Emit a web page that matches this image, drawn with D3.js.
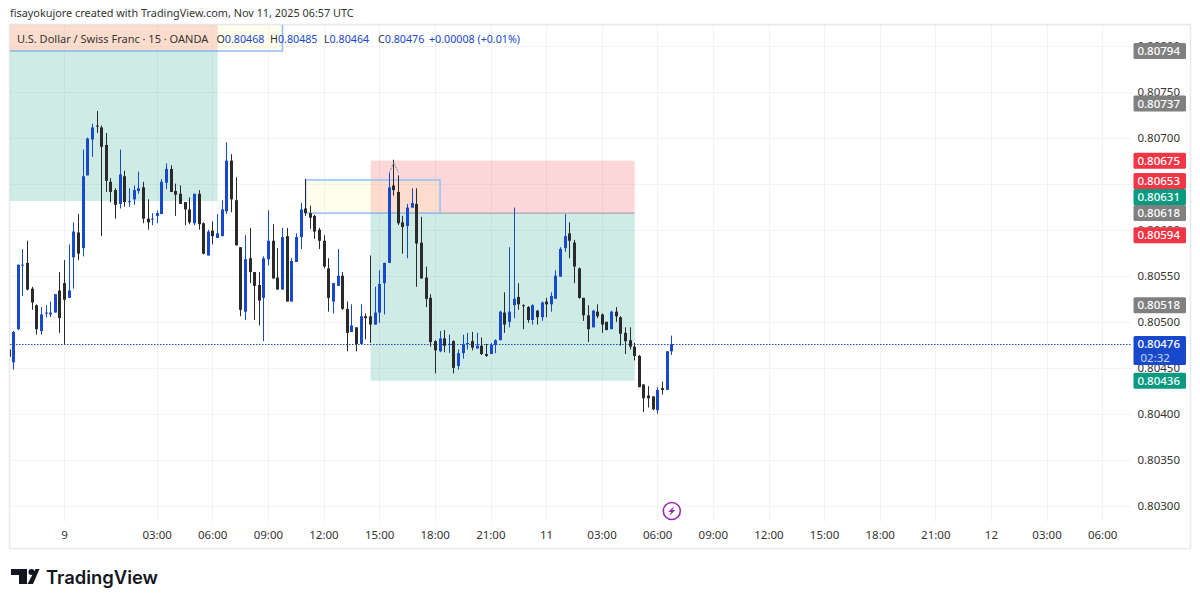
<!DOCTYPE html>
<html>
<head>
<meta charset="utf-8">
<script src="https://cdn.jsdelivr.net/npm/d3@7"></script>
<style>
  html, body { margin: 0; padding: 0; background: #fff; }
  svg { display: block; }
  text { font-family: "Noto Sans", "Open Sans", sans-serif; }
</style>
</head>
<body>
<div id="chart"></div>
<script>
// candles, in bar order
const opens = [
  0.80470,0.80456,0.80492,0.80561,0.80564,0.80536,0.80518,0.80490,0.80509,0.80508,
  0.80510,0.80534,0.80542,0.80526,0.80570,0.80597,0.80580,0.80659,0.80698,0.80713,
  0.80711,0.80692,0.80652,0.80643,0.80628,0.80658,0.80630,0.80633,0.80642,0.80646,
  0.80612,0.80611,0.80615,0.80617,0.80651,0.80666,0.80642,0.80639,0.80630,0.80622,
  0.80607,0.80639,0.80607,0.80572,0.80599,0.80591,0.80593,0.80620,0.80675,0.80632,
  0.80581,0.80511,0.80569,0.80554,0.80540,0.80526,0.80568,0.80588,0.80548,0.80535,
  0.80593,0.80522,0.80565,0.80592,0.80623,0.80618,0.80615,0.80600,0.80588,0.80558,
  0.80522,0.80539,0.80550,0.80514,0.80489,0.80494,0.80476,0.80506,0.80506,0.80497,
  0.80510,0.80542,0.80564,0.80648,0.80641,0.80608,0.80604,0.80624,0.80628,0.80586,
  0.80548,0.80526,0.80479,0.80468,0.80482,0.80475,0.80479,0.80452,0.80466,0.80476,
  0.80479,0.80471,0.80474,0.80465,0.80465,0.80475,0.80480,0.80510,0.80500,0.80518,
  0.80527,0.80518,0.80516,0.80502,0.80512,0.80505,0.80522,0.80519,0.80525,0.80549,
  0.80580,0.80596,0.80586,0.80558,0.80526,0.80507,0.80494,0.80511,0.80508,0.80500,
  0.80492,0.80511,0.80505,0.80488,0.80480,0.80473,0.80463,0.80432,0.80420,0.80419,
  0.80404,0.80428,0.80426,0.80468];
const highs = [
  0.80476,0.80490,0.80562,0.80579,0.80588,0.80538,0.80519,0.80516,0.80518,0.80522,
  0.80530,0.80554,0.80567,0.80584,0.80608,0.80617,0.80687,0.80700,0.80715,0.80729,
  0.80713,0.80705,0.80656,0.80645,0.80687,0.80664,0.80645,0.80648,0.80663,0.80652,
  0.80633,0.80618,0.80621,0.80655,0.80672,0.80670,0.80650,0.80648,0.80630,0.80635,
  0.80639,0.80643,0.80608,0.80600,0.80609,0.80617,0.80632,0.80695,0.80682,0.80657,
  0.80581,0.80594,0.80602,0.80554,0.80554,0.80571,0.80621,0.80606,0.80580,0.80602,
  0.80602,0.80569,0.80596,0.80629,0.80655,0.80626,0.80616,0.80602,0.80594,0.80569,
  0.80542,0.80579,0.80554,0.80522,0.80519,0.80494,0.80519,0.80509,0.80572,0.80538,
  0.80556,0.80564,0.80662,0.80676,0.80659,0.80615,0.80628,0.80645,0.80645,0.80614,
  0.80560,0.80530,0.80480,0.80490,0.80491,0.80486,0.80480,0.80470,0.80486,0.80488,
  0.80489,0.80488,0.80483,0.80476,0.80477,0.80481,0.80512,0.80532,0.80581,0.80624,
  0.80542,0.80519,0.80517,0.80519,0.80513,0.80522,0.80526,0.80532,0.80556,0.80581,
  0.80617,0.80608,0.80589,0.80559,0.80526,0.80518,0.80513,0.80519,0.80509,0.80500,
  0.80512,0.80516,0.80506,0.80494,0.80494,0.80477,0.80464,0.80432,0.80430,0.80419,
  0.80429,0.80435,0.80468,0.80485];
const lows = [
  0.80456,0.80448,0.80491,0.80528,0.80534,0.80513,0.80486,0.80486,0.80505,0.80505,
  0.80510,0.80488,0.80476,0.80526,0.80536,0.80567,0.80571,0.80659,0.80679,0.80705,
  0.80593,0.80641,0.80630,0.80612,0.80623,0.80625,0.80625,0.80627,0.80639,0.80607,
  0.80600,0.80605,0.80607,0.80617,0.80644,0.80641,0.80615,0.80628,0.80605,0.80606,
  0.80605,0.80600,0.80573,0.80572,0.80584,0.80591,0.80593,0.80617,0.80619,0.80583,
  0.80506,0.80502,0.80542,0.80502,0.80496,0.80479,0.80561,0.80547,0.80535,0.80535,
  0.80522,0.80522,0.80565,0.80579,0.80615,0.80601,0.80590,0.80579,0.80558,0.80511,
  0.80509,0.80539,0.80513,0.80468,0.80489,0.80468,0.80476,0.80481,0.80477,0.80497,
  0.80499,0.80508,0.80564,0.80637,0.80605,0.80574,0.80569,0.80624,0.80538,0.80547,
  0.80516,0.80473,0.80444,0.80467,0.80467,0.80466,0.80444,0.80448,0.80460,0.80470,
  0.80469,0.80471,0.80464,0.80462,0.80465,0.80466,0.80480,0.80488,0.80494,0.80504,
  0.80513,0.80492,0.80499,0.80497,0.80497,0.80501,0.80505,0.80511,0.80525,0.80549,
  0.80576,0.80569,0.80542,0.80525,0.80501,0.80478,0.80494,0.80504,0.80488,0.80491,
  0.80492,0.80500,0.80474,0.80465,0.80470,0.80458,0.80429,0.80402,0.80407,0.80404,
  0.80400,0.80421,0.80426,0.80464];
const closes = [
  0.80462,0.80489,0.80562,0.80562,0.80535,0.80521,0.80492,0.80508,0.80510,0.80510,
  0.80530,0.80504,0.80524,0.80534,0.80598,0.80574,0.80658,0.80699,0.80711,0.80712,
  0.80690,0.80653,0.80641,0.80627,0.80660,0.80630,0.80631,0.80643,0.80645,0.80612,
  0.80608,0.80612,0.80618,0.80652,0.80666,0.80641,0.80638,0.80628,0.80622,0.80608,
  0.80639,0.80606,0.80574,0.80598,0.80593,0.80596,0.80622,0.80675,0.80633,0.80583,
  0.80513,0.80568,0.80554,0.80539,0.80523,0.80569,0.80588,0.80547,0.80535,0.80592,
  0.80522,0.80566,0.80592,0.80622,0.80618,0.80613,0.80598,0.80588,0.80560,0.80526,
  0.80542,0.80550,0.80514,0.80488,0.80496,0.80476,0.80506,0.80504,0.80497,0.80510,
  0.80541,0.80564,0.80646,0.80643,0.80607,0.80603,0.80624,0.80629,0.80585,0.80547,
  0.80525,0.80478,0.80469,0.80482,0.80474,0.80476,0.80450,0.80466,0.80476,0.80477,
  0.80472,0.80474,0.80465,0.80463,0.80475,0.80480,0.80511,0.80497,0.80511,0.80525,
  0.80519,0.80517,0.80502,0.80518,0.80505,0.80521,0.80519,0.80528,0.80550,0.80579,
  0.80593,0.80588,0.80560,0.80526,0.80507,0.80492,0.80512,0.80506,0.80497,0.80491,
  0.80511,0.80506,0.80487,0.80479,0.80473,0.80463,0.80429,0.80417,0.80417,0.80405,
  0.80426,0.80426,0.80468,0.80476];

// axes
const priceTicks = [0.80300,0.80350,0.80400,0.80450,0.80500,0.80550,0.80600,0.80650,0.80700,0.80750,0.80800];
const timeBars = [12,32,44,56,68,80,92,104,116,128,140,152,164,176,188,200,212,224,236];
const timeLabels = ["9","03:00","06:00","09:00","12:00","15:00","18:00","21:00","11","03:00","06:00","09:00","12:00","15:00","18:00","21:00","12","03:00","06:00"];

// price tags on the right, highest first
const tagPrices = [0.80794,0.80737,0.80675,0.80653,0.80631,0.80618,0.80594,0.80518,0.80436];
const tagColors = ["#808080","#808080","#f23645","#f23645","#089981","#808080","#f23645","#808080","#089981"];
const lastPrice = 0.80476;
const countdown = "02:32";

// drawings: [first bar, last bar, top price, bottom price]
const greenZones = [[-8,45,0.80794,0.80631],[78,135,0.80618,0.80436]];
const redZones = [[-8,45,0.80900,0.80794],[78,135,0.80675,0.80618]];
const yellowBoxes = [[-8,59,0.80900,0.80794],[64,93,0.80654,0.80618]];

const legendTitle = "U.S. Dollar / Swiss Franc · 15 · OANDA";
const legendLetters = ["O","H","L","C"];
const legendValues = ["0.80468","0.80485","0.80464","0.80476"];
const legendChange = "+0.00008 (+0.01%)";

const width = 1200, height = 605;
const plotLeft = 10, plotRight = 1132, plotTop = 25, plotBottom = 522;
const blue = "#1848cc", dark = "#2a2a2a";
const tagHeight = 16;

const x = d3.scaleLinear().domain([0, 143]).range([9, 671.8]);
const y = d3.scaleLinear().domain([0.803, 0.807]).range([506, 137.6]);
const fmt = d3.format(".5f");
const barX = i => Math.floor(x(i)) + 0.5;

const svg = d3.select("#chart").append("svg")
  .attr("width", width).attr("height", height);

svg.append("clipPath").attr("id", "plot").append("rect")
  .attr("x", plotLeft).attr("y", plotTop)
  .attr("width", plotRight - plotLeft).attr("height", plotBottom - plotTop);

svg.append("text").attr("x", 10).attr("y", 17)
  .attr("font-size", 10.87).attr("fill", "#333")
  .text("fisayokujore created with TradingView.com, Nov 11, 2025 06:57 UTC");

svg.append("rect").attr("x", 9.5).attr("y", 24.5)
  .attr("width", 1181).attr("height", 524)
  .attr("fill", "none").attr("stroke", "#e6e8ee").attr("stroke-width", 1.5);

// grid
const grid = svg.append("g").attr("stroke", "#f2f3f6");
grid.selectAll("line.h").data(priceTicks).join("line")
  .attr("x1", plotLeft).attr("x2", plotRight)
  .attr("y1", d => Math.round(y(d)) + 0.5).attr("y2", d => Math.round(y(d)) + 0.5);
grid.selectAll("line.v").data(timeBars).join("line")
  .attr("y1", plotTop).attr("y2", plotBottom)
  .attr("x1", d => barX(d)).attr("x2", d => barX(d));

// position tools and boxes, under the candles
const plot = svg.append("g").attr("clip-path", "url(#plot)");
const zone = (data, fill) => plot.append("g").selectAll("rect").data(data).join("rect")
  .attr("x", d => x(d[0])).attr("width", d => x(d[1]) - x(d[0]))
  .attr("y", d => y(d[2])).attr("height", d => y(d[3]) - y(d[2]))
  .attr("fill", fill).attr("fill-opacity", 0.2);
zone(greenZones, "#089981");
zone(redZones, "#f23645");

plot.append("g").selectAll("line").data(greenZones).join("line")
  .attr("x1", d => x(d[0])).attr("x2", d => x(d[1]))
  .attr("y1", d => y(d[2])).attr("y2", d => y(d[2]))
  .attr("stroke", "#9a9a9a").attr("stroke-width", 1);

plot.append("g").selectAll("rect").data(yellowBoxes).join("rect")
  .attr("x", d => x(d[0])).attr("width", d => x(d[1]) - x(d[0]))
  .attr("y", d => y(d[2])).attr("height", d => y(d[3]) - y(d[2]))
  .attr("fill", "#fff59d").attr("fill-opacity", 0.2)
  .attr("stroke", "#90bff9").attr("stroke-width", 1.5);

// last price line
plot.append("line")
  .attr("x1", plotLeft).attr("x2", plotRight)
  .attr("y1", Math.round(y(lastPrice)) + 0.5).attr("y2", Math.round(y(lastPrice)) + 0.5)
  .attr("stroke", blue).attr("stroke-width", 1.2).attr("stroke-dasharray", "1.5 1.5");

// candles
const candles = plot.append("g").selectAll("g").data(opens).join("g")
  .attr("fill", (d, i) => closes[i] >= d ? blue : dark)
  .attr("stroke", (d, i) => closes[i] >= d ? blue : dark);
candles.append("line")
  .attr("x1", (d, i) => barX(i)).attr("x2", (d, i) => barX(i))
  .attr("y1", (d, i) => y(highs[i])).attr("y2", (d, i) => y(lows[i]))
  .attr("stroke-width", 1);
candles.append("rect")
  .attr("x", (d, i) => barX(i) - 1.5).attr("width", 3)
  .attr("y", (d, i) => y(Math.max(d, closes[i])))
  .attr("height", (d, i) => Math.max(1, Math.abs(y(d) - y(closes[i]))))
  .attr("stroke", "none");

// small arrow on the high of the spike
plot.append("path")
  .attr("d", d3.line().x(d => x(d[0])).y(d => y(d[1]))([[82.1,0.80662],[83,0.80673],[84,0.80662]]))
  .attr("fill", "none").attr("stroke", "#8a8a8a").attr("stroke-width", 1).attr("stroke-dasharray", "2 1");

// axes
const priceAxis = d3.axisLeft(y).tickValues(priceTicks).tickFormat(fmt).tickSize(0).tickPadding(0);
svg.append("g").attr("transform", "translate(1180,0)").call(priceAxis)
  .call(g => g.select(".domain").remove())
  .call(g => g.selectAll("text").attr("font-size", 11.5).attr("fill", "#333").style("font-family", '"Noto Sans"'));

const timeAxis = d3.axisBottom(x).tickValues(timeBars)
  .tickFormat((d, i) => timeLabels[i]).tickSize(0).tickPadding(0);
svg.append("g").attr("transform", "translate(-0.7,530.5)").call(timeAxis)
  .call(g => g.select(".domain").remove())
  .call(g => g.selectAll("text").attr("font-size", 11.5).attr("fill", "#333").style("font-family", '"Noto Sans"'));

// price tags, pushed apart upwards where two would overlap
const tagY = tagPrices.map(y);
for (let i = tagY.length - 2; i >= 0; i--) {
  if (tagY[i + 1] - tagY[i] < tagHeight) tagY[i] = tagY[i + 1] - tagHeight;
}
const tags = svg.append("g").selectAll("g").data(tagPrices).join("g")
  .attr("transform", (d, i) => `translate(1133.5,${tagY[i]})`);
tags.append("rect").attr("y", -tagHeight / 2).attr("width", 52.5).attr("height", tagHeight).attr("rx", 1.5)
  .attr("fill", (d, i) => tagColors[i]);
tags.append("text").attr("x", 46.5).attr("y", 4).attr("text-anchor", "end")
  .attr("font-size", 11.5).attr("font-weight", 500).attr("fill", "#fff").text(fmt);

const lastTag = svg.append("g").attr("transform", `translate(1133.5,${y(lastPrice)})`);
lastTag.append("rect").attr("y", -8).attr("width", 52.5).attr("height", 29).attr("rx", 1.5).attr("fill", blue);
lastTag.append("text").attr("x", 46.5).attr("y", 4).attr("text-anchor", "end")
  .attr("font-size", 11.5).attr("font-weight", 500).attr("fill", "#fff").text(fmt(lastPrice));
lastTag.append("text").attr("x", 7).attr("y", 18)
  .attr("font-size", 11.5).attr("fill", "#c9d6f7").text(countdown);

// legend
const legend = svg.append("g").attr("font-size", 10.7);
legend.append("text").attr("x", 17).attr("y", 43).attr("font-size", 11).attr("fill", "#333").text(legendTitle);
const ohlcX = [216.5, 270, 324, 378];
legend.selectAll("text.ohlc").data(legendValues).join("text")
  .attr("class", "ohlc").attr("x", (d, i) => ohlcX[i]).attr("y", 43)
  .attr("fill", blue)
  .call(t => t.append("tspan").attr("fill", "#333").text((d, i) => legendLetters[i]))
  .call(t => t.append("tspan").text(d => d));
legend.append("text").attr("x", 429).attr("y", 43).attr("fill", blue).text(legendChange);

// lightning badge on the time scale
const badge = svg.append("g").attr("transform", `translate(${x(143)},511)`);
badge.append("circle").attr("r", 8.5).attr("fill", "#fff").attr("stroke", "#9c27b0").attr("stroke-width", 1.6);
badge.append("path").attr("d", "M2.5,-5 L-3.5,1 L-0.5,1 L-2.5,5 L3.5,-1 L0.5,-1 Z").attr("fill", "#9c27b0");

// logo
const logo = svg.append("g").attr("fill", "#131722");
logo.append("path").attr("d", "M11,569 H27 V584 H19 V575 H11 Z");
logo.append("circle").attr("cx", 31.5).attr("cy", 572).attr("r", 3);
logo.append("path").attr("d", "M35.5,569 H39.5 L33,584 H27.5 Z");
logo.append("text").attr("x", 46).attr("y", 584)
  .attr("font-size", 18.4).attr("font-weight", 600)
  .style("font-family", "Inter")
  .text("TradingView");
</script>
</body>
</html>
